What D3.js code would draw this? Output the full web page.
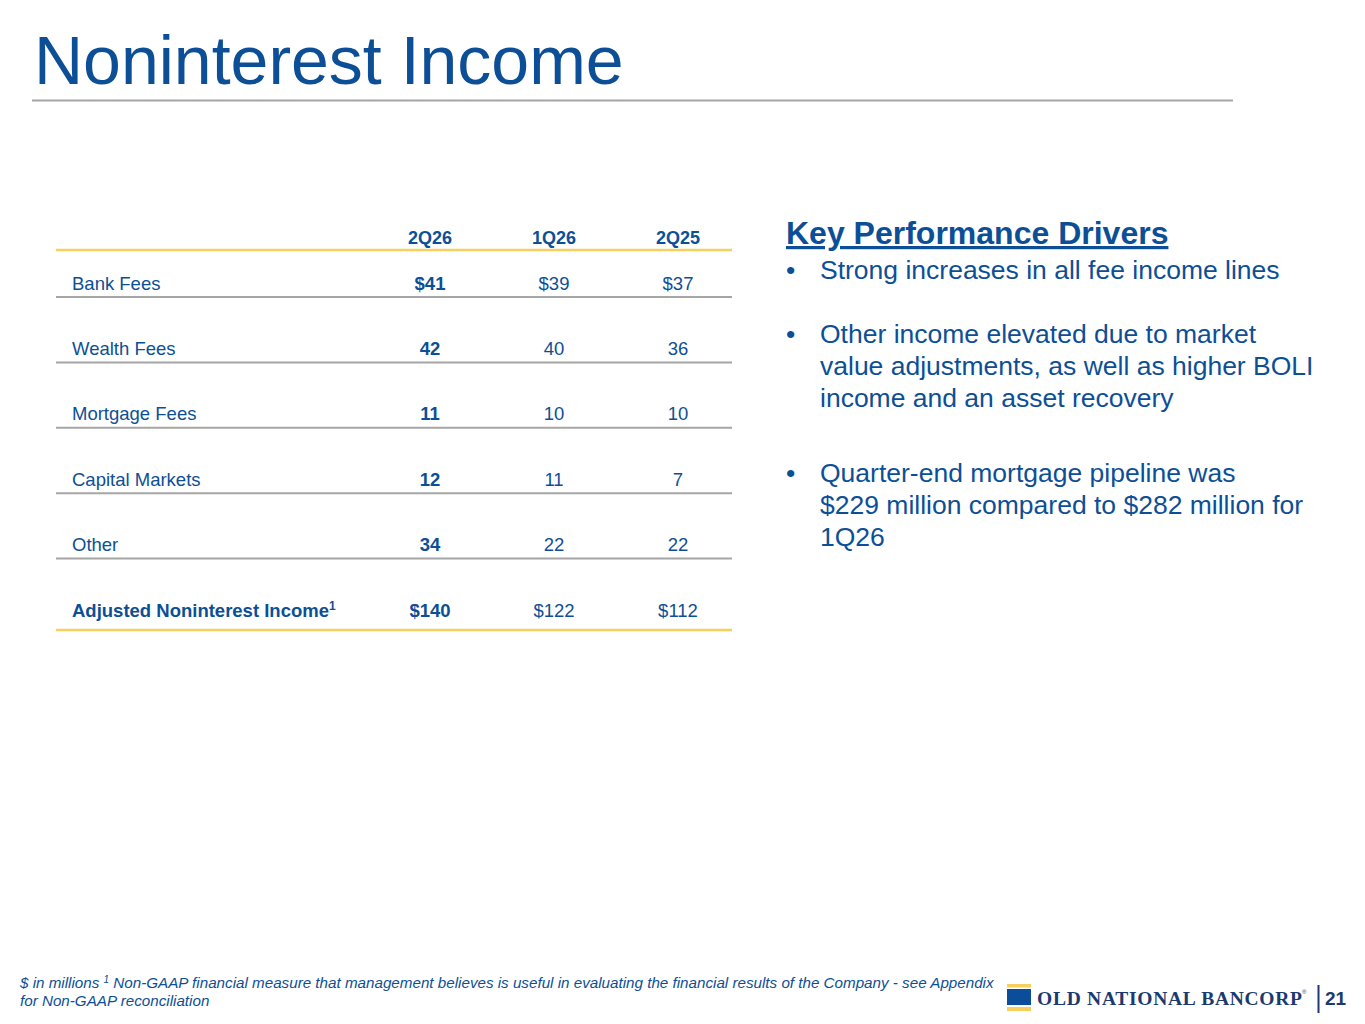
<!DOCTYPE html>
<html>
<head>
<meta charset="utf-8">
<script src="https://cdn.jsdelivr.net/npm/d3@7"></script>
<style>
  body { margin: 0; background: #fff; }
  svg { display: block; font-family: "Liberation Sans", Arial, sans-serif; }
</style>
</head>
<body>
<svg id="slide" width="1365" height="1024"></svg>
<script>
// table data, $ in millions
var periods = ['2Q26', '1Q26', '2Q25'];
var rowLabels = ['Bank Fees', 'Wealth Fees', 'Mortgage Fees', 'Capital Markets', 'Other', 'Adjusted Noninterest Income'];
var values2Q26 = [41, 42, 11, 12, 34, 140];
var values1Q26 = [39, 40, 10, 11, 22, 122];
var values2Q25 = [37, 36, 10, 7, 22, 112];
var dollarRows = ['Bank Fees', 'Adjusted Noninterest Income'];

var drivers = [
  ['Strong increases in all fee income lines'],
  ['Other income elevated due to market', 'value adjustments, as well as higher BOLI', 'income and an asset recovery'],
  ['Quarter-end mortgage pipeline was', '$229 million compared to $282 million for', '1Q26']
];

function slide(id) {

  var blue = '#0D4F96',
      gold = '#F7CF5E',
      grey = '#A6A6A6';

  var svg = d3.select('#' + id);

  // title
  svg.append('text')
      .attr('x', 34)
      .attr('y', 84)
      .attr('fill', blue)
      .attr('font-size', 68)
      .text('Noninterest Income');

  svg.append('line')
      .attr('x1', 32).attr('x2', 1233)
      .attr('y1', 100.5).attr('y2', 100.5)
      .attr('stroke', grey)
      .attr('stroke-width', 2);

  // table
  var rows = rowLabels.map(function (label, i) {
    return { label: label, values: [values2Q26[i], values1Q26[i], values2Q25[i]] };
  });

  var x = d3.scalePoint()
      .domain(periods)
      .range([430, 678]);

  var y = d3.scaleBand()
      .domain(rowLabels)
      .range([250, 642.4]);

  var table = svg.append('g').attr('fill', blue);

  table.selectAll('.head')
    .data(periods)
    .enter().append('text')
      .attr('class', 'head')
      .attr('x', function (d) { return x(d); })
      .attr('y', 244)
      .attr('text-anchor', 'middle')
      .attr('font-size', 18)
      .attr('font-weight', 'bold')
      .text(function (d) { return d; });

  table.append('line')
      .attr('x1', 56).attr('x2', 732)
      .attr('y1', 250).attr('y2', 250)
      .attr('stroke', gold)
      .attr('stroke-width', 2.5);

  var row = table.selectAll('.row')
    .data(rows)
    .enter().append('g')
      .attr('class', 'row')
      .attr('transform', function (d) { return 'translate(0,' + y(d.label) + ')'; });

  var last = rowLabels[rowLabels.length - 1];

  var label = row.append('text')
      .attr('x', 72)
      .attr('y', 39.5)
      .attr('font-size', 18.5)
      .attr('font-weight', function (d) { return d.label === last ? 'bold' : null; })
      .text(function (d) { return d.label; });

  label.filter(function (d) { return d.label === last; })
    .append('tspan')
      .attr('font-size', 12)
      .attr('dy', -7)
      .text('1');

  row.selectAll('.val')
    .data(function (d) {
      return d.values.map(function (v, j) {
        var pre = dollarRows.indexOf(d.label) >= 0 ? '$' : '';
        return { key: periods[j], text: pre + v, bold: j === 0 };
      });
    })
    .enter().append('text')
      .attr('class', 'val')
      .attr('x', function (d) { return x(d.key); })
      .attr('y', 39.5)
      .attr('text-anchor', 'middle')
      .attr('font-size', 18.5)
      .attr('font-weight', function (d) { return d.bold ? 'bold' : null; })
      .text(function (d) { return d.text; });

  row.append('line')
      .attr('x1', 56).attr('x2', 732)
      .attr('y1', function (d) { return d.label === last ? 53 : 47; })
      .attr('y2', function (d) { return d.label === last ? 53 : 47; })
      .attr('stroke', function (d) { return d.label === last ? gold : grey; })
      .attr('stroke-width', function (d) { return d.label === last ? 2.5 : 2; });

  // key performance drivers
  var side = svg.append('g').attr('fill', blue);

  side.append('text')
      .attr('x', 786)
      .attr('y', 244)
      .attr('font-size', 32)
      .attr('font-weight', 'bold')
      .attr('text-decoration', 'underline')
      .text('Key Performance Drivers');

  var starts = [279, 343, 482];

  drivers.forEach(function (lines, i) {
    side.append('text')
        .attr('x', 786)
        .attr('y', starts[i])
        .attr('font-size', 26.5)
        .text('\u2022');

    side.append('g').selectAll('text')
      .data(lines)
      .enter().append('text')
        .attr('x', 820)
        .attr('y', function (d, k) { return starts[i] + k * 32; })
        .attr('font-size', 26.5)
        .text(function (d) { return d; });
  });

  // footnote
  var foot = svg.append('text')
      .attr('fill', blue)
      .attr('font-size', 15.2)
      .attr('font-style', 'italic');

  foot.append('tspan')
      .attr('x', 20).attr('y', 988)
      .text('$ in millions  ');
  foot.append('tspan')
      .attr('font-size', 10)
      .attr('dy', -5)
      .text('1');
  foot.append('tspan')
      .attr('dy', 5)
      .text(' Non-GAAP financial measure that management believes is useful in evaluating the financial results of the Company - see Appendix');
  foot.append('tspan')
      .attr('x', 20).attr('y', 1006)
      .text('for Non-GAAP reconciliation');

  // logo
  var logo = svg.append('g');

  logo.append('rect').attr('x', 1007).attr('y', 984).attr('width', 24).attr('height', 3.5).attr('fill', gold);
  logo.append('rect').attr('x', 1007).attr('y', 989).attr('width', 24).attr('height', 16).attr('fill', '#0B4D98');
  logo.append('rect').attr('x', 1007).attr('y', 1007).attr('width', 24).attr('height', 4).attr('fill', gold);

  logo.append('text')
      .attr('x', 1037)
      .attr('y', 1005)
      .attr('fill', '#1C3A6E')
      .attr('font-family', '"Liberation Serif", "DejaVu Serif", serif')
      .attr('font-weight', 'bold')
      .attr('font-size', 19.5)
      .attr('textLength', 265)
      .text('OLD NATIONAL BANCORP');

  logo.append('text')
      .attr('x', 1302)
      .attr('y', 994)
      .attr('fill', '#1C3A6E')
      .attr('font-size', 6)
      .text('\u00AE');

  logo.append('line')
      .attr('x1', 1318.5).attr('x2', 1318.5)
      .attr('y1', 985).attr('y2', 1013)
      .attr('stroke', '#1C3A6E')
      .attr('stroke-width', 2);

  logo.append('text')
      .attr('x', 1325)
      .attr('y', 1005)
      .attr('fill', '#1C3A6E')
      .attr('font-size', 19)
      .attr('font-weight', 'bold')
      .text('21');
}

slide('slide');
</script>
</body>
</html>
